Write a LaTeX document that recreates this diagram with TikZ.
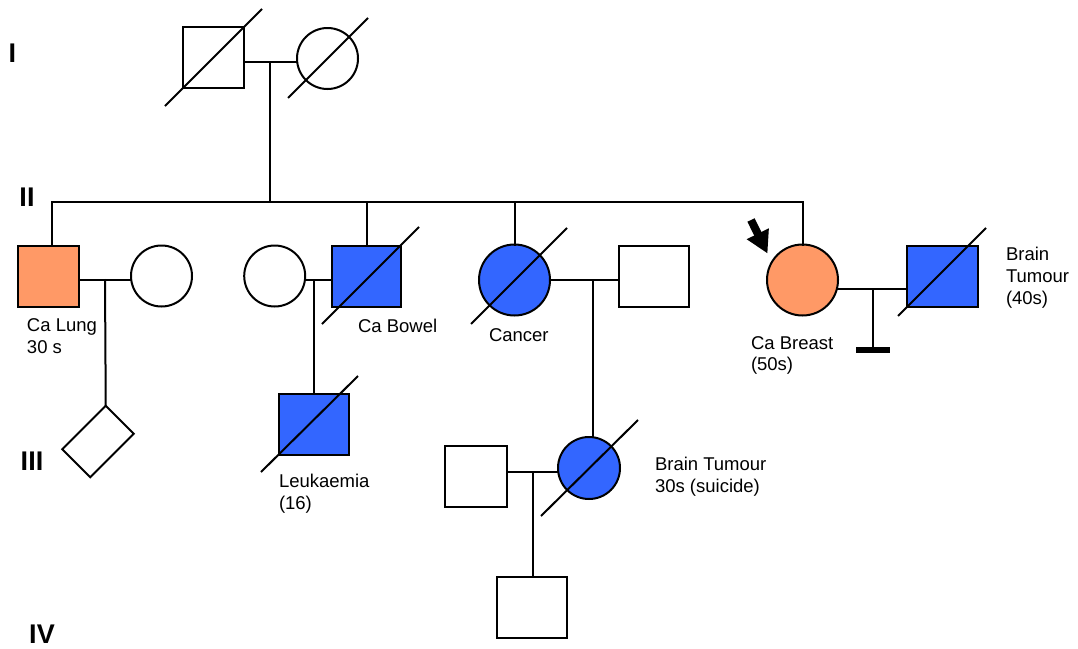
\documentclass[tikz,border=0pt]{standalone}
\usepackage{fontspec}
\setmainfont{Liberation Sans}
\usetikzlibrary{arrows.meta,shapes.geometric}
\definecolor{affO}{HTML}{FF9966}
\definecolor{affB}{HTML}{3366FF}
\begin{document}
\begin{tikzpicture}[x=1pt,y=-1pt,
  every node/.style={inner sep=0pt,outer sep=0pt},
  ln/.style={line width=2pt,line cap=rect},
  person/.style={draw,line width=2pt,fill=white},
  male/.style={person,rectangle,minimum width=#1,minimum height=61pt},
  male/.default=61pt,
  female/.style={person,circle,minimum size=#1},
  female/.default=61pt,
  slash/.style={line width=2pt},
  lbl/.style={font=\fontsize{18.5}{21.8}\selectfont,align=left,anchor=west},
  gen/.style={font=\fontsize{27}{27}\selectfont\bfseries}
]
\useasboundingbox (0,0) rectangle (1078,648);

% generation labels
\node[gen] (gI) at (12.5,53) {I};
\node[gen] (gII) at (27,197.5) {II};
\node[gen] (gIII) at (32,461) {III};
\node[gen] (gIV) at (42,634) {IV};

% Generation I
\node[male] (g1m) at (213.5,57.5) {};
\node[female] (g1f) at (327.5,58.5) {};
\draw[slash] (165,106) -- (262,9);
\draw[slash] (288,98) -- (368,18);
\coordinate (m1) at (270,62);
\coordinate (s1) at (270,202);
\draw[ln] (g1m.east |- m1) -- (g1f.west |- m1);
\draw[ln] (m1) -- (s1);

% Generation II
\node[male,fill=affO] (ii1) at (48,276) {};
\node[female] (ii2) at (161.5,276) {};
\node[female] (ii3) at (274.7,276) {};
\node[male=69pt,fill=affB] (ii4) at (366.5,276) {};
\draw[slash] (322,324) -- (419,227);
\node[female=71pt,fill=affB] (ii5) at (514.5,280) {};
\draw[slash] (471,324) -- (567,228);
\node[male=70pt] (ii6) at (654,276) {};
\node[female=71pt,fill=affO] (ii7) at (802.5,280) {};
\node[male=71pt,fill=affB] (ii8) at (942.5,276) {};
\draw[slash] (898,316) -- (986,228);

% sibship of generation II
\coordinate (d1) at (52,202);
\coordinate (d7) at (803,202);
\draw[ln] (d1) -- (d7);
\draw[ln] (d1) -- (d1 |- ii1.north);
\draw[ln] (ii4.north |- s1) -- (ii4.north);
\draw[ln] (ii5.north |- s1) -- (ii5.north);
\draw[ln] (d7) -- (d7 |- ii7.north);

% Generation III
\node[draw,line width=2pt,rectangle,minimum width=61.5pt,minimum height=39.6pt,rotate=45] (iii1) at (98,441.5) {};
\node[male=70pt,fill=affB] (iii2) at (314,424.5) {};
\draw[slash] (261,472) -- (358,376);
\node[male=62pt] (iii3) at (476,476.5) {};
\node[female=62pt,fill=affB] (iii4) at (589,468) {};
\draw[slash] (541,516) -- (638,420);

% Generation IV
\node[male=70pt] (iv1) at (532,607.5) {};

% couples and descent lines
\coordinate (m2) at (105,280);
\draw[ln] (ii1.east |- m2) -- (ii2.west |- m2);
\draw[ln] (m2) -- (iii1.north east);

\coordinate (m3) at (314,280);
\draw[ln] (ii3.east |- m3) -- (ii4.west |- m3);
\draw[ln] (m3) -- (iii2.north);

\coordinate (m4) at (593,280);
\draw[ln] (ii5.east) -- (ii6.west |- m4);
\draw[ln] (m4) -- (m4 |- iii4.north);

\coordinate (m5) at (873,289);
\coordinate (nc) at (873,350);
\draw[ln] (ii7.east |- m5) -- (ii8.west |- m5);
\draw[ln] (m5) -- (nc);
\draw[line width=6pt] ([xshift=-17pt]nc) -- ([xshift=17pt]nc);

\coordinate (m6) at (533,472);
\draw[ln] (iii3.east |- m6) -- (iii4.west |- m6);
\draw[ln] (m6) -- (m6 |- iv1.north);

% proband arrow
\coordinate (pa) at (751,220);
\coordinate (pb) at (767.5,253.5);
\draw[line width=8pt,-{Triangle[length=22pt,width=23pt]}] (pa) -- (pb);

% labels
\node[lbl] (t1) at (27,336.5) {Ca Lung\\30 s};
\node[lbl] (t2) at (358,326) {Ca Bowel};
\node[lbl] (t3) at (279,494) {Leukaemia\\(16)};
\node[lbl] (t4) at (489,335) {Cancer};
\node[lbl] (t5) at (751,355.5) {Ca Breast\\(50s)};
\node[lbl] (t6) at (1006,278) {Brain\\Tumour\\(40s)};
\node[lbl] (t7) at (655,476.5) {Brain Tumour\\30s (suicide)};
\end{tikzpicture}
\end{document}
